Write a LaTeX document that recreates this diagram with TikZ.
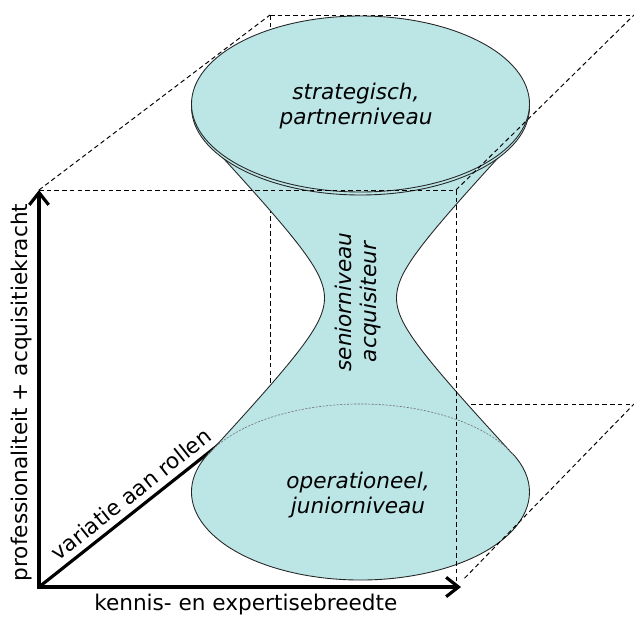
\documentclass[tikz,border=0pt]{standalone}
\usepackage{fontspec}
\setmainfont{DejaVu Sans}
\usetikzlibrary{arrows.meta}
\definecolor{hourglass}{RGB}{188,229,230}

\begin{document}
\begin{tikzpicture}[x=0.02cm, y=0.02cm,
    axis/.style={line width=1.8pt, line cap=rect, -{Straight Barb[length=7pt, width=11pt]}},
    boxline/.style={dash pattern=on 2.6pt off 1.8pt, line width=0.55pt},
    rim/.style={draw=black!85, line width=0.5pt},
    hidden/.style={draw=black!55, line width=0.35pt, dash pattern=on 1.2pt off 0.8pt},
    axislabel/.style={font=\fontsize{12.3}{14.2}\selectfont},
    niveau/.style={font=\fontsize{12.3}{14.2}\selectfont\itshape, align=center}]

   \useasboundingbox (-39,-29) rectangle (595,587);

   % corners of the box
   \coordinate (O) at (0,0);
   \coordinate (X) at (422,0);
   \coordinate (Y) at (0,397);
   \coordinate (FTR) at (417,397);
   \coordinate (FBR) at (417,0);
   \coordinate (BTL) at (231,572);
   \coordinate (BTR) at (595,572);
   \coordinate (BBL) at (231,183);
   \coordinate (BBR) at (595,183);

   % back of the box
   \draw[boxline] (Y) to (BTL);
   \draw[boxline] (BTL) to (BTR);
   \draw[boxline] (BTL) to (BBL);
   \draw[boxline] (BBL) to (BBR);

   % third axis
   \draw[line width=1.8pt] (O) to node[axislabel, sloped, above, pos=0.44] {variatie aan rollen} (BBL);

   % hourglass
   \fill[hourglass] plot[domain=-2.12:2.12, samples=60, variable=\u] ({321.5-36*cosh(\u)}, {289+38*sinh(\u)})
     -- plot[domain=2.12:-2.12, samples=60, variable=\u] ({321.5+36*cosh(\u)}, {289+38*sinh(\u)}) -- cycle;
   \fill[hourglass] (321.5,95) ellipse (169 and 88);
   \draw[rim] plot[domain=-2.12:2.12, samples=60, variable=\u] ({321.5-36*cosh(\u)}, {289+38*sinh(\u)});
   \draw[rim] plot[domain=-2.12:2.12, samples=60, variable=\u] ({321.5+36*cosh(\u)}, {289+38*sinh(\u)});
   \draw[rim] (321.5,95) ++(154.4:169 and 88) arc[start angle=154.4, end angle=385.6, x radius=169, y radius=88];
   \draw[hidden] (321.5,95) ++(25.6:169 and 88) arc[start angle=25.6, end angle=154.4, x radius=169, y radius=88];
   \draw[rim, fill=hourglass] (321.5,480) ellipse (169 and 88);
   \draw[rim, fill=hourglass] (321.5,483) ellipse (169 and 88);

   % front of the box
   \draw[boxline] (Y) to (FTR);
   \draw[boxline] (FTR) to (FBR);
   \draw[boxline] (FTR) to (BTR);
   \draw[boxline, shorten <=7pt] (FBR) to (BBR);

   % axes
   \draw[axis] (O) to node[axislabel, below, pos=0.49] {kennis- en expertisebreedte} (X);
   \draw[axis] (O) to node[axislabel, sloped, above, pos=0.49] {professionaliteit + acquisitiekracht} (Y);

   % levels
   \node[niveau] (strat) at (317,481) {strategisch,\\partnerniveau};
   \node[niveau, rotate=90] (senior) at (319,285) {seniorniveau\\acquisiteur};
   \node[niveau] (oper) at (319,92) {operationeel,\\juniorniveau};
\end{tikzpicture}
\end{document}
